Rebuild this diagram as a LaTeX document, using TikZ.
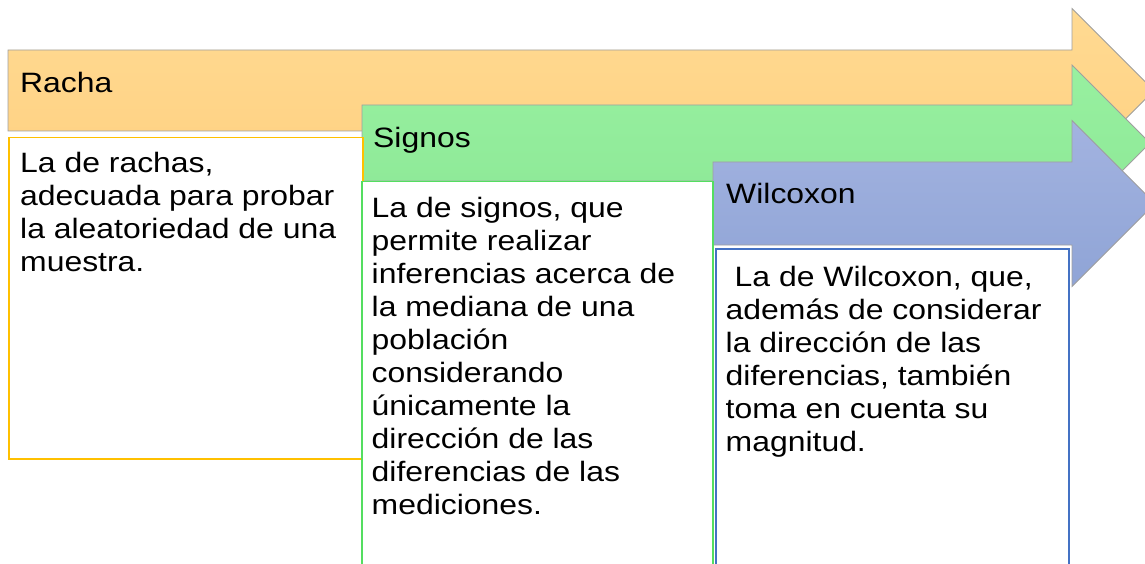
\documentclass[tikz,border=0pt]{standalone}
\usepackage{fontspec}
\setmainfont{Liberation Sans}[FakeStretch=1.14]
\definecolor{naranja1}{RGB}{255,218,146}
\definecolor{naranja2}{RGB}{255,209,130}
\definecolor{verde1}{RGB}{152,240,160}
\definecolor{verde2}{RGB}{140,232,150}
\definecolor{azul1}{RGB}{163,179,224}
\definecolor{azul2}{RGB}{143,164,214}
\definecolor{bordenaranja}{RGB}{255,192,0}
\definecolor{bordeverde}{RGB}{84,222,96}
\definecolor{bordeazul}{RGB}{68,114,196}

\begin{document}
\begin{tikzpicture}[x=1pt,y=-1pt,
  titulo/.style={anchor=base west,inner sep=0pt,font=\fontsize{28}{33}\selectfont},
  texto/.style={anchor=north west,inner sep=0pt,align=left,font=\fontsize{28}{33}\selectfont},
  caja/.style={draw=#1,line width=1.5pt,fill=white,anchor=north west,inner sep=0pt}]
  \useasboundingbox (0,0) rectangle (1145,564);
  \clip (0,0) rectangle (1145,564);

  % flechas
  \foreach \xl/\yt/\yb/\h/\col in {8/50/131/82/naranja,362/105/181/78/verde,713/162/245/83/azul}{
    \pgfmathsetmacro{\c}{(\yt+\yb)/2}
    \draw[gray!75,line width=0.8pt,top color=\col1,bottom color=\col2]
      (\xl,\yt) -- (1072,\yt) -- (1072,\c-\h) -- (1072+\h,\c)
      -- (1072,\c+\h) -- (1072,\yb) -- (\xl,\yb) -- cycle;
  }

  \node[titulo] (racha) at (20,93) {Racha};
  \node[titulo] (signos) at (373,148) {Signos};
  \node[titulo] (wilcoxon) at (726,204) {Wilcoxon};

  % cajas
  \node[caja=bordenaranja,minimum width=354,minimum height=321] (cajaracha) at (8,137) {};
  \node[caja=bordeverde,minimum width=351,minimum height=420] (cajasignos) at (361,181) {};
  \node[caja=bordeazul,minimum width=353,minimum height=360] (cajawilcoxon) at (715,248) {};

  \node[texto] (txtracha) at ([xshift=12pt,yshift=-15pt]cajaracha.north west)
    {La de rachas,\\adecuada para probar\\la aleatoriedad de una\\muestra.};
  \node[texto] (txtsignos) at ([xshift=10.5pt,yshift=-16pt]cajasignos.north west)
    {La de signos, que\\permite realizar\\inferencias acerca de\\la mediana de una\\poblaci\'on\\considerando\\\'unicamente la\\direcci\'on de las\\diferencias de las\\mediciones.};
  \node[texto] (txtwilcoxon) at ([xshift=10.5pt,yshift=-18pt]cajawilcoxon.north west)
    {\hspace*{9pt}La de Wilcoxon, que,\\adem\'as de considerar\\la direcci\'on de las\\diferencias, tambi\'en\\toma en cuenta su\\magnitud.};
\end{tikzpicture}
\end{document}
